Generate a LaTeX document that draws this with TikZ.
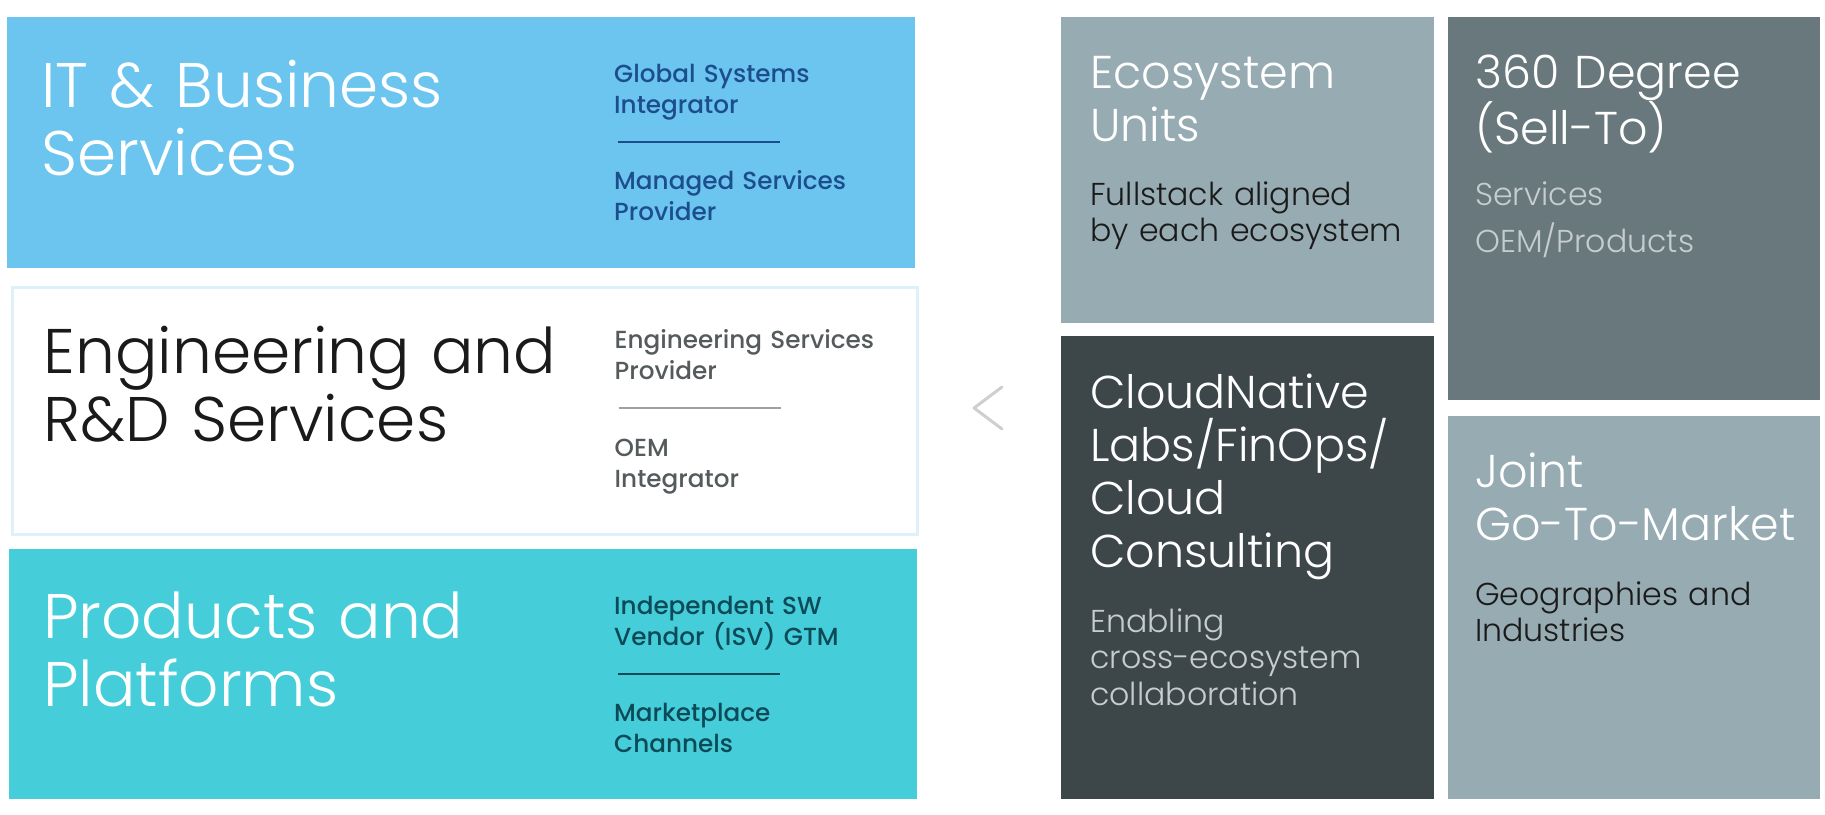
\documentclass[tikz,border=0pt]{standalone}
\usepackage{fontspec}
\setmainfont{Poppins}
\newfontfamily\lightfont{Poppins Light}
\newfontfamily\mediumfont{Poppins Medium}
\usepackage{tikz}
\usetikzlibrary{positioning}
\definecolor{itblue}{HTML}{6BC5EF}
\definecolor{itnavy}{HTML}{1C4E8E}
\definecolor{engline}{HTML}{DDF1FB}
\definecolor{enggray}{HTML}{555A5C}
\definecolor{engrule}{HTML}{A0A0A0}
\definecolor{engink}{HTML}{1A1A1A}
\definecolor{prodcyan}{HTML}{46CDDA}
\definecolor{prodteal}{HTML}{0C4A57}
\definecolor{ecogray}{HTML}{97ABB2}
\definecolor{slategray}{HTML}{68787C}
\definecolor{cloudgray}{HTML}{3D4649}
\definecolor{palegray}{HTML}{C5CDD0}
\definecolor{chevgray}{HTML}{CFCFCF}
\tikzstyle{panel} = [rectangle, draw=none, inner sep=0pt, anchor=north west]
\tikzstyle{bigtitle} = [anchor=base west, inner sep=0pt, text width=600pt, align=left, font=\lightfont\fontsize{63}{68}\selectfont]
\tikzstyle{sidetext} = [anchor=base west, inner sep=0pt, text width=280pt, align=left, font=\mediumfont\fontsize{24.7}{31.5}\selectfont]
\tikzstyle{tiletitle} = [anchor=base west, inner sep=0pt, text width=340pt, align=left, text=white, font=\lightfont\fontsize{46}{53}\selectfont]
\tikzstyle{tilesub} = [anchor=base west, inner sep=0pt, text width=340pt, align=left, font=\lightfont\fontsize{31.6}{36.5}\selectfont]

\begin{document}
\begin{tikzpicture}[x=1pt, y=-1pt]
\useasboundingbox (0,0) rectangle (1825,814);
\fill[white] (0,0) rectangle (1825,814);
% left column
\node(IT)[panel, fill=itblue, minimum width=908pt, minimum height=251pt] at (7,17) {};
\node(ENG)[panel, draw=engline, line width=3pt, minimum width=905pt, minimum height=247pt] at (10.5,285.5) {};
\node(PROD)[panel, fill=prodcyan, minimum width=908pt, minimum height=250pt] at (9,549) {};

\node(ITt)[bigtitle, text=white] at ([shift={(34,90)}]IT.north west) {IT \& Business\\Services};
\node(ITa)[sidetext, text=itnavy] at ([shift={(607,65)}]IT.north west) {Global Systems\\Integrator};
\node(ITb)[sidetext, text=itnavy] at ([shift={(607,172)}]IT.north west) {Managed Services\\Provider};
\draw[itnavy, line width=1.2pt] ([shift={(611,125)}]IT.north west) -- ++(162,0);

\node(ENGt)[bigtitle, text=engink] at ([shift={(33,87.5)}]ENG.north west) {Engineering and\\R\&D Services};
\node(ENGa)[sidetext, text=enggray] at ([shift={(604,62.5)}]ENG.north west) {Engineering Services\\Provider};
\node(ENGb)[sidetext, text=enggray] at ([shift={(604,170.5)}]ENG.north west) {OEM\\Integrator};
\draw[engrule, line width=1.2pt] ([shift={(608,122.5)}]ENG.north west) -- ++(162,0);

\node(PRODt)[bigtitle, text=white] at ([shift={(34,89)}]PROD.north west) {Products and\\Platforms};
\node(PRODa)[sidetext, text=prodteal] at ([shift={(605,65)}]PROD.north west) {Independent SW\\Vendor (ISV) GTM};
\node(PRODb)[sidetext, text=prodteal] at ([shift={(605,172)}]PROD.north west) {Marketplace\\Channels};
\draw[prodteal, line width=1.2pt] ([shift={(609,125)}]PROD.north west) -- ++(162,0);

% chevron
\draw[chevgray, line width=3pt, line cap=round, line join=round] (1002,387) -- (974,408) -- (1002,429);

% right tiles
\node(ECO)[panel, fill=ecogray, minimum width=373pt, minimum height=306pt] at (1061,17) {};
\node(DEG)[panel, fill=slategray, minimum width=372pt, minimum height=383pt] at (1448,17) {};
\node(CLD)[panel, fill=cloudgray, minimum width=373pt, minimum height=463pt] at (1061,336) {};
\node(JNT)[panel, fill=ecogray, minimum width=372pt, minimum height=383pt] at (1448,416) {};

\node(ECOt)[tiletitle] at ([shift={(29,71)}]ECO.north west) {Ecosystem\\Units};
\node(ECOs)[tilesub, text=engink] at ([shift={(29,188)}]ECO.north west) {Fullstack aligned\\by each ecosystem};

\node(DEGt)[tiletitle] at ([shift={(27,71)}]DEG.north west) {360 Degree\\(Sell-To)};
\node(DEGs)[tilesub, text=palegray, font=\lightfont\fontsize{31.6}{47}\selectfont] at ([shift={(27,188)}]DEG.north west) {Services\\OEM/Products};

\node(CLDt)[tiletitle] at ([shift={(29,72)}]CLD.north west) {CloudNative\\Labs/FinOps/\\Cloud\\Consulting};
\node(CLDs)[tilesub, text=palegray] at ([shift={(29,296)}]CLD.north west) {Enabling\\cross-ecosystem\\collaboration};

\node(JNTt)[tiletitle] at ([shift={(27,71)}]JNT.north west) {Joint\\Go-To-Market};
\node(JNTs)[tilesub, text=engink] at ([shift={(27,189)}]JNT.north west) {Geographies and\\Industries};
\end{tikzpicture}
\end{document}
